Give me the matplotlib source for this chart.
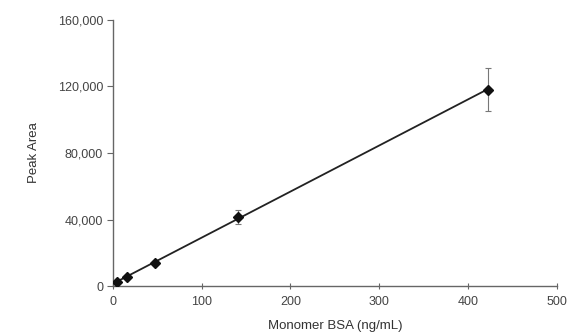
import numpy as np
import matplotlib.pyplot as plt
from matplotlib.ticker import FuncFormatter

plt.rcParams['font.family'] = ['Liberation Sans', 'DejaVu Sans']

# Data
conc = [4.7, 15.6, 46.9, 140.6, 421.9]
peak_area = [2500, 5500, 14000, 41500, 118000]
err = [600, 700, 900, 4200, 13000]

x_ticks = [0, 100, 200, 300, 400, 500]
y_ticks = [0, 40000, 80000, 120000, 160000]

fig = plt.figure(figsize=(5.7, 3.33), dpi=100)
ax = fig.add_axes([0.198, 0.141, 0.779, 0.799])

# Linear fit line
slope, icpt = np.polyfit(conc, peak_area, 1)
xs = np.array([0, max(conc)])
ax.plot(xs, slope * xs + icpt, color='#222222', lw=1.3, zorder=2)

ax.errorbar(conc, peak_area, yerr=err, fmt='none', ecolor='#777777',
            elinewidth=0.8, capsize=2.5, capthick=0.8, zorder=3)
ax.plot(conc, peak_area, 'D', color='#111111', ms=5, zorder=4)

ax.set_xlim(0, 500)
ax.set_ylim(0, 160000)
ax.set_xticks(x_ticks)
ax.set_yticks(y_ticks)
ax.yaxis.set_major_formatter(FuncFormatter(lambda v, p: f'{int(v):,}'))

for s in ['top', 'right']:
    ax.spines[s].set_visible(False)
for s in ['left', 'bottom']:
    ax.spines[s].set_color('#666666')
    ax.spines[s].set_linewidth(1.0)

ax.tick_params(axis='x', direction='inout', length=5, color='#666666',
               labelsize=9, labelcolor='#444444', pad=5)
ax.tick_params(axis='y', direction='out', length=4, color='#666666',
               labelsize=9, labelcolor='#444444', pad=3)

ax.set_xlabel('Monomer BSA (ng/mL)', fontsize=9.5, color='#333333', labelpad=8)
ax.set_ylabel('Peak Area', fontsize=9.5, color='#333333', labelpad=13)

fig.savefig('out.png', dpi=100)
